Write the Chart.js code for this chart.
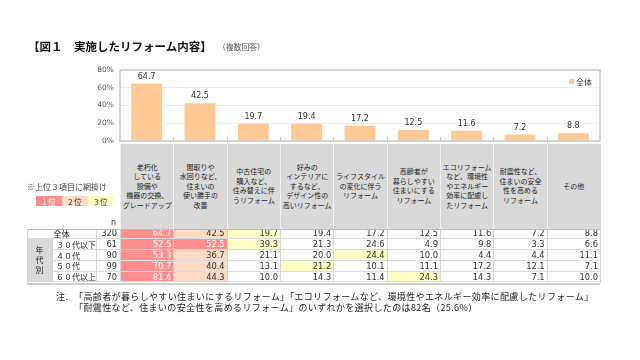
<!DOCTYPE html>
<html lang="ja">
<head>
<meta charset="utf-8">
<script src="https://cdn.jsdelivr.net/npm/chart.js@4.4.1/dist/chart.umd.min.js"></script>
<style>
  html, body { margin: 0; padding: 0; background: #fff; }
  #wrap { position: relative; width: 640px; height: 360px; overflow: hidden;
          font-family: "Noto Sans CJK JP", "Noto Sans", sans-serif; color: #222; }
  #chart { position: absolute; left: 0; top: 0; }
  .abs { position: absolute; box-sizing: border-box; white-space: nowrap; }
  .cell { display: flex; align-items: center; }
  .num { font-family: "DejaVu Sans", sans-serif; font-size: 8.3px; justify-content: flex-end; padding-right: 2px; color: #333; }
  .head { background: #d9d9d9; border-left: 1px solid #f2f2f2; flex-direction: column; justify-content: center;
          font-size: 7px; line-height: 9.5px; text-align: center; color: #222; }
  .title { font-size: 11.5px; font-weight: bold; color: #111; }
  .note { font-size: 9px; letter-spacing: 0.38px; color: #222; }
</style>
</head>
<body>
<div id="wrap">
  <canvas id="chart" width="640" height="360"></canvas>
  <div id="table-layer"></div>
</div>
<script>
// --- DATA ---
const categories = [
    ['老朽化', 'している', '設備や', '機器の交換、', 'グレードアップ'],
    ['間取りや', '水回りなど、', '住まいの', '使い勝手の', '改善'],
    ['中古住宅の', '購入など、', '住み替えに伴', 'うリフォーム'],
    ['好みの', 'インテリアに', 'するなど、', 'デザイン性の', '高いリフォーム'],
    ['ライフスタイル', 'の変化に伴う', 'リフォーム'],
    ['高齢者が', '暮らしやすい', '住まいにする', 'リフォーム'],
    ['エコリフォーム', 'など、環境性', 'やエネルギー', '効率に配慮し', 'たリフォーム'],
    ['耐震性など、', '住まいの安全', '性を高める', 'リフォーム'],
    ['その他']
];
const overall = [64.7, 42.5, 19.7, 19.4, 17.2, 12.5, 11.6, 7.2, 8.8];
const age30s = [52.5, 52.5, 39.3, 21.3, 24.6, 4.9, 9.8, 3.3, 6.6];
const age40s = [53.3, 36.7, 21.1, 20.0, 24.4, 10.0, 4.4, 4.4, 11.1];
const age50s = [70.7, 40.4, 13.1, 21.2, 10.1, 11.1, 17.2, 12.1, 7.1];
const age60s = [81.4, 44.3, 10.0, 14.3, 11.4, 24.3, 14.3, 7.1, 10.0];
const rowLabels = ['全体', '３０代以下', '４０代', '５０代', '６０代以上'];
const sampleSizes = [320, 61, 90, 99, 70];
const yTicks = [0, 20, 40, 60, 80];
const seriesName = '全体';

const barColor = '#ffc996';
const rankColors = { 1: '#ff8f8f', 2: '#fcdcc4', 3: '#ffffc6' };

// --- CHART ---
const chartDecor = {
    id: 'chartDecor',
    afterDraw(chart) {
        const { ctx, chartArea: a, scales: { x } } = chart;
        ctx.save();
        // plot frame
        ctx.strokeStyle = '#c8c8c8';
        ctx.lineWidth = 1.5;
        ctx.strokeRect(a.left, a.top, a.right - a.left, a.bottom - a.top);
        // small inner ticks between categories
        ctx.lineWidth = 1;
        const step = x.getPixelForValue(1) - x.getPixelForValue(0);
        for (let i = 1; i < overall.length; i++) {
            const px = Math.round(x.getPixelForValue(i) - step / 2) + 0.5;
            ctx.beginPath();
            ctx.moveTo(px, a.bottom);
            ctx.lineTo(px, a.bottom - 4);
            ctx.stroke();
        }
        // value labels
        ctx.fillStyle = '#333';
        ctx.font = '8px "DejaVu Sans"';
        ctx.textAlign = 'center';
        ctx.textBaseline = 'bottom';
        chart.getDatasetMeta(0).data.forEach((bar, i) => {
            ctx.fillText(overall[i].toFixed(1), bar.x, bar.y - 3);
        });
        // legend
        ctx.fillStyle = barColor;
        ctx.fillRect(a.right - 31, a.top + 9, 5, 5);
        ctx.fillStyle = '#333';
        ctx.font = '8px "Noto Sans CJK JP"';
        ctx.textAlign = 'left';
        ctx.textBaseline = 'middle';
        ctx.fillText(seriesName, a.right - 24, a.top + 11.5);
        ctx.restore();
    }
};

const chart = new Chart(document.getElementById('chart'), {
    type: 'bar',
    data: {
        labels: categories.map(c => c.join('')),
        datasets: [{
            label: seriesName,
            data: overall,
            backgroundColor: barColor,
            barPercentage: 0.58,
            categoryPercentage: 1.0
        }]
    },
    options: {
        responsive: false,
        animation: false,
        layout: { padding: { left: 60, right: 40, top: 70, bottom: 219 } },
        plugins: { legend: { display: false }, tooltip: { enabled: false } },
        scales: {
            x: { display: false },
            y: {
                min: 0, max: 80,
                afterBuildTicks: s => { s.ticks = yTicks.map(v => ({ value: v })); },
                afterFit: s => { s.width = 60; },
                border: { display: false },
                grid: { color: '#ebebeb', drawTicks: false },
                ticks: {
                    padding: 6,
                    color: '#555',
                    font: { family: 'DejaVu Sans', size: 7.5 },
                    callback: v => v + '%'
                }
            }
        }
    },
    plugins: [chartDecor]
});

// --- TABLE (aligned to the chart's x scale) ---
const layer = document.getElementById('table-layer');
function box(x, y, w, h, cls, html, style) {
    const d = document.createElement('div');
    d.className = 'abs ' + (cls || '');
    Object.assign(d.style, { left: x + 'px', top: y + 'px', width: w + 'px', height: h + 'px' }, style || {});
    d.innerHTML = html || '';
    layer.appendChild(d);
    return d;
}
function ranks(arr) {
    return arr.map(v => 1 + arr.filter(o => o > v).length);
}

const xs = chart.scales.x;
const area = chart.chartArea;
const step = xs.getPixelForValue(1) - xs.getPixelForValue(0);
const colLeft = i => xs.getPixelForValue(i) - step / 2;
const headTop = area.bottom + 3;
const headBottom = 228.5;
const rowH = 10.8;
const tableLeft = 27, labelLeft = 52, nLeft = 96;

// title
box(28, 38, 200, 18, 'title', '【図１　実施したリフォーム内容】');
box(218, 41, 80, 14, '', '（複数回答）', { fontSize: '7.8px', color: '#555' });

// header cells
categories.forEach((lines, i) => {
    box(colLeft(i), headTop, step, headBottom - headTop, 'cell head', lines.map(l => '<div>' + l + '</div>').join(''));
});

// shading legend
box(27, 181, 100, 12, '', '※上位３項目に網掛け', { fontSize: '8px', color: '#444' });
['1 位', '2 位', '3 位'].forEach((t, k) => {
    box(36 + k * 26, 196, 26, 10, 'cell', t, {
        background: rankColors[k + 1], justifyContent: 'center', fontSize: '7.5px',
        color: k === 0 ? '#fff' : '#333'
    });
});
box(nLeft, 217, 24, 11, 'cell', 'n', { justifyContent: 'flex-end', paddingRight: '4px', fontSize: '8px', fontFamily: 'DejaVu Sans', color: '#333' });

// body rows
const rows = [overall, age30s, age40s, age50s, age60s];
const tableRight = colLeft(categories.length);
rows.forEach((vals, r) => {
    const y = headBottom + r * rowH;
    const rk = ranks(vals);
    vals.forEach((v, i) => {
        const bg = rk[i] <= 3 ? rankColors[rk[i]] : '#fff';
        box(colLeft(i), y, step, rowH, 'cell num', v.toFixed(1), {
            background: bg, color: rk[i] === 1 ? '#fff' : '#333',
            borderLeft: '1px solid #d4d4d4', borderBottom: '1px solid #dcdcdc'
        });
    });
    if (r === 0) {
        box(tableLeft, y, nLeft - tableLeft, rowH, 'cell', rowLabels[r], {
            justifyContent: 'center', fontSize: '8px', borderBottom: '1px solid #dcdcdc'
        });
    } else {
        box(labelLeft, y, nLeft - labelLeft, rowH, 'cell', rowLabels[r], {
            paddingLeft: '3px', fontSize: '8px', borderBottom: '1px solid #dcdcdc', borderLeft: '1px solid #d4d4d4'
        });
    }
    box(nLeft, y, colLeft(0) - nLeft, rowH, 'cell num', String(sampleSizes[r]), {
        paddingRight: '3px', borderLeft: '1px solid #d4d4d4', borderBottom: '1px solid #dcdcdc'
    });
});
// age group cell
box(tableLeft, headBottom + rowH, labelLeft - tableLeft, rowH * 4, 'cell', '<div>年</div><div>代</div><div>別</div>', {
    background: '#d9d9d9', flexDirection: 'column', justifyContent: 'center', fontSize: '8px', lineHeight: '10px',
    borderBottom: '1px solid #dcdcdc'
});
// table outer lines
box(tableLeft, headBottom, tableRight - tableLeft, 1, '', '', { background: '#bdbdbd' });
box(tableLeft, headBottom + rowH * 5, tableRight - tableLeft, 2, '', '', { background: '#cfcfcf' });
box(tableLeft, headBottom, 1, rowH * 5, '', '', { background: '#d4d4d4' });
box(tableRight, headTop, 1, headBottom + rowH * 5 - headTop, '', '', { background: '#d4d4d4' });

// notes
box(56, 290, 20, 13, 'note', '注.');
box(74, 290, 560, 13, 'note', '「高齢者が暮らしやすい住まいにするリフォーム」「エコリフォームなど、環境性やエネルギー効率に配慮したリフォーム」');
box(74, 301, 560, 13, 'note', '「耐震性など、住まいの安全性を高めるリフォーム」のいずれかを選択したのは82名（25.6%）');
</script>
</body>
</html>
